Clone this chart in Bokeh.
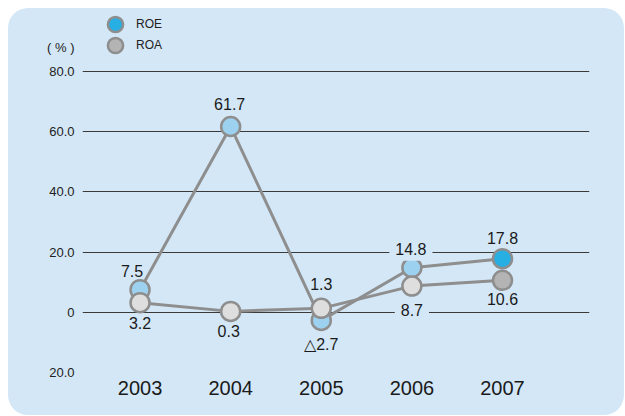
from bokeh.plotting import figure
from bokeh.models import (ColumnDataSource, FixedTicker, Legend, LegendItem)
from bokeh.core.properties import value
from bokeh.embed import file_html
from bokeh.resources import INLINE

years = [2003, 2004, 2005, 2006, 2007]
roe = [7.5, 61.7, -2.7, 14.8, 17.8]
roa = [3.2, 0.3, 1.3, 8.7, 10.6]
y_ticks = [-20, 0, 20, 40, 60, 80]
y_tick_labels = ["20.0", "0", "20.0", "40.0", "60.0", "80.0"]
unit_label = "( % )"

# styling
BG = "#d3e7f6"
LINE = "#8e8e8e"
FONT = "Liberation Sans"
UNIT_POS = 88  # vertical slot of the unit caption on the value axis
roe_fill = ["#9dd1f0"] * 4 + ["#27aee3"]
roa_fill = ["#dedede"] * 4 + ["#b4b4b4"]
roe_xoff = [-8, -1, 0, -1, 0]
roe_yoff = [-19, -23, 24, -19, -21]
roa_xoff = [0, -2, 0, 0, 0]
roa_yoff = [20, 20, -24, 24, 19]
roe_bg = [0, 0, 0, 1, 0]
roa_bg = [0, 0, 0, 1, 0]


def fmt(v):
    return ("△" if v < 0 else "") + f"{abs(v):.1f}"


p = figure(width=616, height=407, output_backend="svg", toolbar_location=None,
           x_range=(2002.365, 2007.96), y_range=(-20, 100.9),
           min_border_left=74, min_border_right=35, min_border_top=0,
           min_border_bottom=43)
p.background_fill_color = None
p.border_fill_color = None
p.outline_line_color = None
p.styles = {"background-color": BG, "border-radius": "20px", "margin": "8px 0 0 8px"}

p.xgrid.visible = False
p.ygrid.ticker = FixedTicker(ticks=y_ticks)
p.ygrid.grid_line_color = "#3a3a3a"
p.ygrid.grid_line_width = 1.2

p.yaxis.ticker = FixedTicker(ticks=y_ticks + [UNIT_POS])
overrides = {t: l for t, l in zip(y_ticks, y_tick_labels)}
overrides[UNIT_POS] = unit_label
p.yaxis.major_label_overrides = overrides
p.xaxis.ticker = FixedTicker(ticks=years)
p.xaxis.major_label_overrides = {y: str(y) for y in years}
for ax in (p.xaxis, p.yaxis):
    ax.axis_line_color = None
    ax.major_tick_line_color = None
    ax.minor_tick_line_color = None
    ax.major_tick_out = 0
    ax.major_tick_in = 0
    ax.major_label_text_font = FONT
p.yaxis.major_label_text_font_size = "13px"
p.yaxis.major_label_text_color = "#222222"
p.yaxis.major_label_standoff = 8
p.xaxis.major_label_text_font_size = "20px"
p.xaxis.major_label_text_color = "#1a1a1a"
p.xaxis.major_label_standoff = 8

roe_src = ColumnDataSource(dict(x=years, y=roe, fill=roe_fill,
                                lbl=[fmt(v) for v in roe], xo=roe_xoff, yo=roe_yoff,
                                bga=roe_bg))
roa_src = ColumnDataSource(dict(x=years, y=roa, fill=roa_fill,
                                lbl=[fmt(v) for v in roa], xo=roa_xoff, yo=roa_yoff,
                                bga=roa_bg))

p.line("x", "y", source=roe_src, line_color=LINE, line_width=3)
roe_r = p.scatter("x", "y", source=roe_src, size=19, fill_color="fill",
                  line_color=LINE, line_width=2.5)
p.line("x", "y", source=roa_src, line_color=LINE, line_width=3)
roa_r = p.scatter("x", "y", source=roa_src, size=19, fill_color="fill",
                  line_color=LINE, line_width=2.5)

for src in (roe_src, roa_src):
    p.text("x", "y", text="lbl", source=src, x_offset="xo", y_offset="yo",
           text_align="center", text_baseline="middle",
           text_font=value(FONT), text_font_size="16px",
           text_color="#1a1a1a", background_fill_color=BG,
           background_fill_alpha="bga", padding=6)

leg_style = dict(glyph_width=38, glyph_height=38, padding=0, margin=0,
                 label_standoff=2, label_text_font=FONT,
                 label_text_font_size="12px", label_text_color="#222222",
                 background_fill_alpha=0, border_line_alpha=0)
p.add_layout(Legend(items=[LegendItem(label="ROE", renderers=[roe_r], index=4)],
                    location=(14, 329), **leg_style))
p.add_layout(Legend(items=[LegendItem(label="ROA", renderers=[roa_r], index=4)],
                    location=(14, 308), **leg_style))

open("out.html", "w").write(file_html(p, INLINE))
